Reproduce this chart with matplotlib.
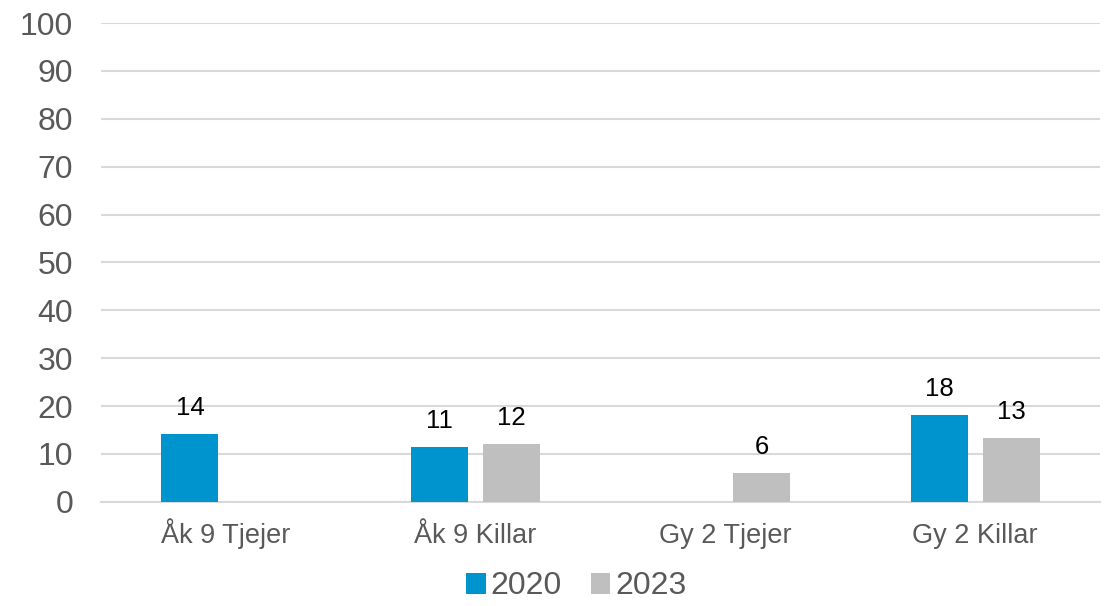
import numpy as np
import matplotlib.pyplot as plt

plt.rcParams['font.family'] = ['Liberation Sans', 'DejaVu Sans']

categories = ['Åk 9 Tjejer', 'Åk 9 Killar', 'Gy 2 Tjejer', 'Gy 2 Killar']
series_names = ['2020', '2023']
values_2020 = [14.2, 11.4, np.nan, 18.1]
values_2023 = [np.nan, 12.0, 6.1, 13.4]
yticks = [0, 10, 20, 30, 40, 50, 60, 70, 80, 90, 100]

blue = '#0094CF'
grey = '#BFBFBF'
grid_col = '#D9D9D9'
text_col = '#595959'

fig = plt.figure(figsize=(11.04, 6.06), dpi=100)
ax = fig.add_axes([0.0915, 0.172, 0.905, 0.79])

x = np.arange(len(categories))
w = 0.228
off = 0.144

b1 = ax.bar(x - off, values_2020, w, color=blue, label=series_names[0], zorder=3)
b2 = ax.bar(x + off, values_2023, w, color=grey, label=series_names[1], zorder=3)

for bars, vals in [(b1, values_2020), (b2, values_2023)]:
    for rect, v in zip(bars, vals):
        if np.isnan(v):
            continue
        ax.annotate(f'{v:.0f}', (rect.get_x() + rect.get_width() / 2, v),
                    xytext=(0, 10), textcoords='offset points',
                    ha='center', va='bottom', fontsize=18.5, color='black')

ax.set_xlim(-0.5, len(categories) - 0.5)
ax.set_ylim(0, 100)
ax.set_yticks(yticks)
ax.set_xticks(x)
ax.set_xticklabels(categories, va='baseline')
ax.tick_params(axis='y', length=0, labelsize=23, colors=text_col, pad=20)
ax.tick_params(axis='x', length=0, labelsize=19.5, colors=text_col, pad=29.5)
ax.grid(axis='y', color=grid_col, linewidth=1.5, zorder=0)
for s in ['top', 'right', 'left']:
    ax.spines[s].set_visible(False)
ax.spines['bottom'].set_color(grid_col)
ax.spines['bottom'].set_linewidth(1.5)

leg = fig.legend(loc='lower center', bbox_to_anchor=(0.522, -0.04), ncol=2,
                 frameon=False, fontsize=23, handlelength=0.62, handleheight=0.62,
                 handletextpad=0.15, columnspacing=0.9)
for t in leg.get_texts():
    t.set_color(text_col)

fig.savefig('out.png', dpi=100)
